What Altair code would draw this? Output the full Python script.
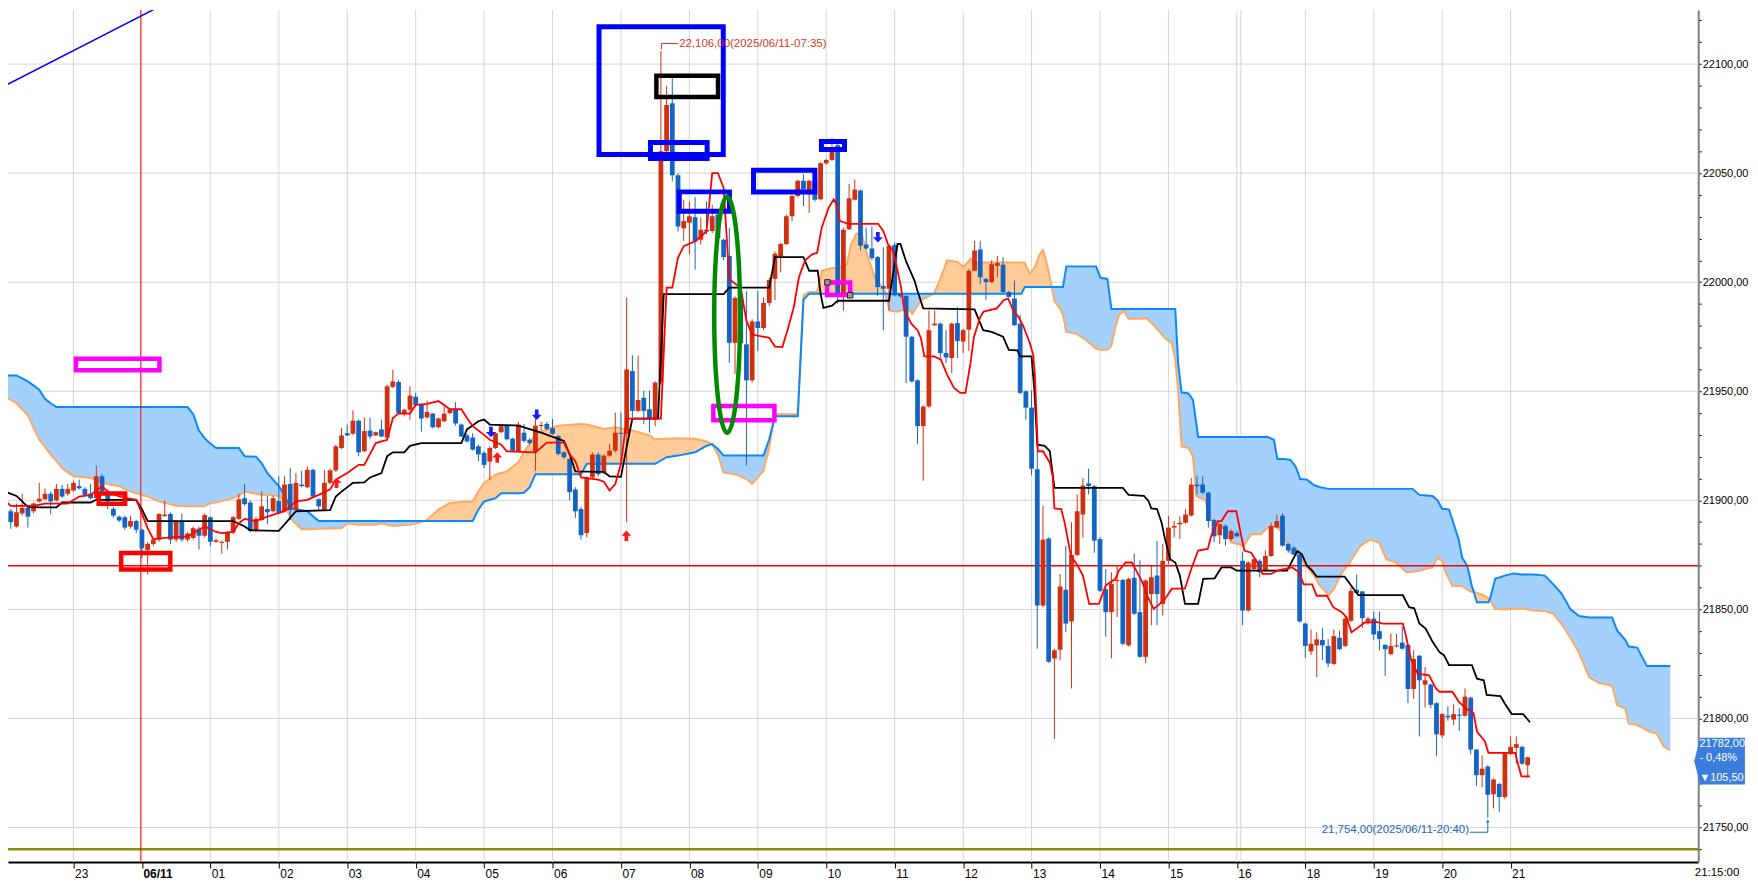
import altair as alt
import pandas as pd

# ---------------- candle data (5-minute bars, index 0 = 22:00) ----------------
opens = [21898, 21895, 21888, 21894, 21896.5, 21895, 21899.5, 21900.5, 21903, 21900,
 21905.25, 21903, 21904.5, 21906.5, 21905.25, 21903, 21901, 21911, 21904, 21896,
 21892.5, 21892.25, 21888, 21890.5, 21886.5, 21877.25, 21880, 21882, 21892.75, 21893.75,
 21882, 21890.5, 21882, 21882.75, 21887, 21883.75, 21892.25, 21881, 21880.5, 21881,
 21885.25, 21891.5, 21901, 21899, 21886, 21891, 21896, 21895, 21899.75, 21895,
 21907.5, 21895.75, 21907.25, 21906, 21914, 21900.5, 21895.75, 21908, 21913.75, 21924,
 21930.75, 21930.5, 21936.5, 21922.5, 21932, 21929.75, 21932.5, 21928.75, 21952, 21954.25,
 21940, 21941.5, 21947.5, 21943.75, 21938, 21939.75, 21933.5, 21936.25, 21940, 21941.5,
 21934.75, 21929.75, 21928.75, 21924.75, 21921.75, 21917.75, 21924, 21931.25, 21934.25, 21928.25,
 21922.5, 21931, 21927.75, 21922, 21934, 21935, 21933, 21929.5, 21922, 21919,
 21905, 21896, 21885, 21910.5, 21921, 21912.75, 21920.5, 21922.75, 21931, 21930.5,
 21959.25, 21941, 21947, 21941.75, 21937.75, 21954, 22060, 22082, 22049, 22024.75,
 22027.25, 22029.75, 22019.5, 22024, 22023.5, 22031, 22019.5, 22012, 21972.25, 21992,
 21971.5, 21955, 21982, 21979, 21990.5, 22001.5, 22012, 22017.5, 22030.25, 22039.5,
 22046.5, 22040.25, 22046.5, 22038, 22054.5, 22056, 22062.75, 21993.75, 22024.25, 22037.75,
 22042, 22017.25, 22015.5, 22011.5, 21998.25, 21997, 22017, 21994.75, 21993.75, 21975,
 21955, 21934, 21943, 21980.25, 21981, 21967.5, 21965.25, 21981.25, 21972.75, 21978.25,
 22005.25, 22015, 22001.5, 22000, 22007.5, 22008, 21995.5, 21992.5, 21981, 21950,
 21942.5, 21914.25, 21851.75, 21882.5, 21827.5, 21831.5, 21859, 21844.5, 21875, 21893.5,
 21907.75, 21906.5, 21882.25, 21859.25, 21848.75, 21863, 21863.5, 21833.5, 21864.5, 21848.75,
 21828.25, 21857, 21865.5, 21852.5, 21872.25, 21887.5, 21889, 21889.75, 21893, 21907.25,
 21907.25, 21903.5, 21891, 21884, 21888.25, 21882.25, 21885, 21872.25, 21849.5, 21868.5,
 21872.25, 21867.75, 21874.5, 21887.5, 21893, 21880, 21878.25, 21875.25, 21843.5, 21830.75,
 21833.5, 21836, 21833.25, 21825, 21837, 21833.25, 21844.75, 21859, 21858.25, 21844.5,
 21845.75, 21840, 21833.75, 21829.5, 21833, 21834.75, 21833.75, 21813.5, 21828.75, 21815.5,
 21815.5, 21807, 21792.25, 21801.25, 21799.5, 21801.5, 21801.25, 21809.5, 21785.75, 21774,
 21778, 21765.25, 21770, 21764, 21783.75, 21786.5, 21787, 21778.5]
highs = [21899, 21896, 21898.5, 21903, 21897, 21899, 21908, 21905.5, 21904, 21907.5,
 21907, 21907.5, 21909, 21909.5, 21906, 21907.5, 21916, 21912, 21905, 21897,
 21893, 21893, 21893, 21891, 21887, 21881, 21882.5, 21894, 21900, 21894.5,
 21891, 21894, 21885.5, 21888, 21888, 21894, 21892.5, 21882.5, 21881.5, 21886,
 21893, 21903, 21907.5, 21900, 21892.5, 21904, 21902, 21902, 21911, 21911,
 21914.75, 21912.5, 21913.5, 21915.5, 21914.5, 21901, 21914, 21914.5, 21925.5, 21933.25,
 21934.75, 21941.25, 21937, 21938, 21938, 21931.5, 21937, 21953, 21960, 21955,
 21942, 21952.25, 21949.25, 21944, 21945.75, 21940, 21938, 21943, 21942.25, 21945,
 21935.25, 21930.5, 21930.75, 21925.5, 21922.5, 21924.75, 21931.25, 21934.5, 21935, 21928.75,
 21936, 21935, 21928.5, 21938.75, 21936, 21936, 21937.25, 21930, 21922.5, 21919.5,
 21906, 21897, 21911, 21922, 21922, 21921, 21925.75, 21940.25, 21940.25, 21993,
 21966.5, 21966.25, 21950.25, 21950.25, 21954.5, 22106, 22090, 22093.5, 22050, 22037.75,
 22037, 22039, 22029.5, 22037, 22035.5, 22032, 22020, 22025, 21993.5, 21994,
 21995.75, 21983, 21996, 21993, 22002, 22014, 22018, 22031, 22040, 22047,
 22049.5, 22047, 22050, 22055, 22056.5, 22066, 22063.5, 22025, 22045, 22047,
 22042.5, 22025, 22025.5, 22012, 22016, 22017, 22018.25, 21995, 21994, 21975.5,
 21955.5, 21943.5, 21987, 21987, 21981.5, 21978, 21981.5, 21988.5, 21978.5, 22006,
 22019, 22019, 22002, 22010, 22012, 22011.5, 21996, 22000.75, 21985, 21950.5,
 21950.5, 21929.25, 21897.5, 21883, 21832, 21866.25, 21879, 21890, 21902.75, 21910.25,
 21914.5, 21907, 21883, 21868.5, 21867, 21870, 21864, 21864.5, 21875.5, 21872.5,
 21863.75, 21870, 21881.5, 21880, 21892.75, 21890.5, 21892.75, 21896, 21910.25, 21911,
 21911, 21904, 21891.5, 21889.5, 21889, 21886.5, 21886, 21876.5, 21872, 21873.5,
 21873, 21877, 21889.75, 21893.5, 21894, 21880.5, 21879, 21876.75, 21844, 21840.75,
 21839.5, 21841.5, 21836.5, 21840.75, 21840.25, 21847.25, 21860, 21866, 21858.5, 21846.5,
 21849, 21849, 21834, 21839, 21838.75, 21842, 21834, 21831.25, 21829.25, 21823.5,
 21816, 21807.5, 21802.5, 21805.5, 21806.5, 21804.75, 21813.75, 21810, 21786, 21783,
 21778.5, 21772.5, 21770.5, 21784.5, 21791.75, 21791.75, 21787.5, 21782.5]
lows = [21893, 21887, 21887.5, 21893, 21887.5, 21894, 21899, 21900, 21893.5, 21899.5,
 21901, 21902, 21904, 21905, 21902, 21900.5, 21900.5, 21903.5, 21896, 21892,
 21890, 21886.5, 21887, 21885, 21873.5, 21866, 21879, 21881, 21892.5, 21880,
 21881, 21881, 21881, 21882, 21877.5, 21883, 21879, 21880.5, 21875.5, 21877.5,
 21884.5, 21891, 21897.5, 21885.5, 21885.5, 21890.5, 21889, 21894.5, 21893.5, 21894.5,
 21891, 21895, 21906, 21905.5, 21901, 21895.5, 21895, 21907.5, 21913, 21923.5,
 21929.5, 21930, 21920.25, 21922, 21928, 21929.5, 21929, 21927.5, 21951.5, 21939.5,
 21938.5, 21937, 21943.5, 21931.5, 21937.5, 21933, 21933, 21935.75, 21939.5, 21934.25,
 21929, 21926.5, 21922.75, 21918, 21914.75, 21909.5, 21923.5, 21930.75, 21927.5, 21922,
 21922, 21926.5, 21925.5, 21913.5, 21932, 21932, 21930, 21920.5, 21919, 21900,
 21892, 21882, 21883, 21910, 21911, 21912, 21920, 21922, 21916.75, 21890,
 21938, 21940.5, 21935, 21931, 21934, 21953, 22059, 22046.25, 22023.25, 22019,
 22012.75, 22005.75, 22017.25, 22022, 22022.5, 22019, 22010, 21963, 21958, 21970,
 21916, 21954, 21968.5, 21978, 21989, 21991.75, 22004.5, 22017, 22028, 22039,
 22035, 22031.75, 22037, 22037.5, 22053.75, 22055.5, 21990.25, 21987, 22024, 22037.5,
 22014.5, 22015, 22010, 21993.75, 21978, 21987, 21993.5, 21993, 21953.75, 21954,
 21925.75, 21909, 21942.5, 21980, 21964.5, 21963, 21958.25, 21965.25, 21967.5, 21968.5,
 22005, 21999, 21991.75, 21999.5, 22002.25, 21995, 21993, 21980, 21948.5, 21937,
 21911.5, 21832, 21851, 21825.5, 21790.5, 21826.75, 21839.5, 21813.75, 21874.5, 21882.75,
 21902.75, 21876, 21858, 21837.5, 21827.5, 21846.5, 21833.5, 21833, 21847.5, 21827.75,
 21825.25, 21842.75, 21842.75, 21847.25, 21870.75, 21883, 21882.25, 21889.25, 21892.5, 21902.75,
 21903, 21887.5, 21880.75, 21880, 21879.25, 21881.5, 21883, 21842.75, 21849, 21868,
 21864.75, 21867.25, 21874, 21887, 21878.75, 21876, 21875, 21844, 21827.75, 21829,
 21819, 21826.75, 21823.5, 21824.5, 21831.25, 21832.75, 21844.25, 21857, 21841.5, 21843,
 21836, 21831.25, 21819.5, 21829, 21832.5, 21831.5, 21807, 21809, 21791.75, 21805,
 21804.75, 21782.75, 21791, 21799, 21797, 21794.25, 21800.75, 21783.5, 21769, 21768.5,
 21754.5, 21758.75, 21757, 21763, 21783.25, 21779.5, 21778.75, 21772.75]
closes = [21895, 21890, 21894.5, 21896.5, 21892.5, 21898.5, 21900.75, 21903, 21899.5, 21905.25,
 21901.75, 21905.25, 21908, 21905.5, 21902.5, 21901, 21911, 21904, 21899.5, 21893,
 21890.75, 21887.5, 21890.5, 21886.5, 21878, 21880, 21882, 21893.75, 21893.5, 21882,
 21890.25, 21882, 21884.75, 21887.25, 21883.75, 21893.25, 21881, 21881.75, 21881, 21885.25,
 21892.25, 21900.5, 21898.25, 21886, 21891.5, 21897.25, 21894.5, 21901, 21894.25, 21907.25,
 21895.5, 21908, 21906.5, 21914, 21901.75, 21897.25, 21908, 21913.75, 21924.75, 21929.75,
 21929.75, 21936.5, 21922, 21931.75, 21929.25, 21931.25, 21929.25, 21952.25, 21954.5, 21940,
 21941.5, 21948, 21943.75, 21937.5, 21940.5, 21933.5, 21937.5, 21939.75, 21941.5, 21935.25,
 21929.25, 21927, 21923.25, 21921, 21916.25, 21924, 21930.75, 21934, 21928, 21922.75,
 21934.75, 21927.25, 21926.25, 21934.25, 21934.5, 21932.75, 21930.5, 21921.25, 21919.75, 21903.75,
 21895, 21884, 21910.5, 21921, 21912, 21920.5, 21922.75, 21931, 21930.5, 21960,
 21941, 21946, 21941, 21937.25, 21954, 22060, 22081.25, 22049, 22025.5, 22028,
 22030.25, 22018.5, 22024, 22023.25, 22030.25, 22020.25, 22011.5, 21972.25, 21992.75, 21972,
 21955, 21982, 21979, 21990.5, 22001, 22013, 22017.5, 22030.25, 22039.5, 22046.5,
 22042.5, 22046.5, 22037.75, 22054.5, 22056, 22061.5, 21993.75, 22024, 22038.5, 22042.5,
 22016.75, 22015.5, 22011, 21997.75, 21997, 22016.75, 21994, 21993.5, 21975, 21954.5,
 21934, 21943, 21978, 21981, 21967.5, 21965.5, 21981, 21973, 21978, 22005.25,
 22014.5, 22002.25, 22000, 22008.25, 22008.75, 21995.5, 21993.25, 21980.25, 21949.25, 21942.5,
 21914.5, 21851.75, 21882, 21826, 21831.25, 21860.5, 21843.5, 21875, 21895, 21906.75,
 21906.5, 21881.5, 21858.5, 21848.75, 21861.75, 21863.5, 21834.25, 21864, 21848, 21828.25,
 21863.25, 21864.75, 21857, 21872.25, 21887.5, 21888.25, 21889.75, 21893.5, 21907.25, 21906.5,
 21903.5, 21890.5, 21883.5, 21889, 21882.25, 21886, 21883.5, 21849.5, 21871.5, 21873,
 21867, 21874.5, 21888.25, 21890.5, 21879.25, 21877, 21875.25, 21844.5, 21833.25, 21834.25,
 21836.25, 21833.5, 21825.25, 21837.75, 21831.75, 21845.75, 21858.5, 21857.5, 21846, 21845.75,
 21838.5, 21836.5, 21831.75, 21833.25, 21833.25, 21832, 21813.5, 21827.25, 21817.5, 21817.5,
 21806.25, 21792.75, 21802, 21800.5, 21802, 21801.25, 21810, 21785.75, 21774, 21777,
 21765, 21772, 21764, 21784, 21787, 21788.25, 21779.25, 21782.25]

# ---------------- Ichimoku lines ----------------
tenkan_idx = [0, 1, 5, 7, 11, 13, 15, 17, 18, 20, 23, 24, 25, 26, 28, 32, 35, 37, 38, 40, 41, 42, 44, 46, 48, 49, 51, 53, 55, 57, 58, 60, 62, 63, 65, 67, 68, 69, 71, 72, 74, 76, 78, 80, 81, 82, 84, 85, 87, 88, 93, 95, 98, 99, 100, 101, 104, 105, 106, 107, 108, 109, 115, 116, 117, 118, 119, 121, 123, 124, 125, 126, 127, 129, 130, 131, 134, 135, 136.3, 137.2, 138.3, 139.2, 140.3, 141.5, 142.4, 143.2, 144.4, 145.3, 145.8, 146.4, 147.9, 153.1, 154, 154.8, 155.7, 156.5, 157.1, 157.7, 158.9, 160, 160.6, 161.2, 162.9, 164.1, 165.2, 166.4, 167.5, 168.4, 169.3, 169.9, 171, 171.6, 173.9, 175.1, 175.9, 176.8, 177.7, 178.5, 179.7, 180.3, 180.6, 181.1, 182, 183.2, 183.7, 184, 185.2, 185.8, 186.9, 188.1, 189, 190.1, 191.8, 193, 194.7, 195.3, 196.5, 197.6, 199.4, 200.5, 201.4, 202.5, 203.4, 204.6, 206.9, 208, 209.2, 210.9, 211.5, 212.7, 213.3, 214.4, 215.9, 216.7, 217.3, 218.5, 219.6, 220.5, 222, 223.1, 224.2, 225.7, 226.9, 227.7, 229.2, 230, 231.8, 232.9, 234.4, 235.2, 236.1, 237.3, 238.4, 240.5, 241.6, 245.1, 245.7, 246.5, 247.7, 249.7, 250.9, 251.5, 253.8, 254.9, 256.1, 257.5, 258.1, 259.5, 260.1, 264.8, 265.3, 265.9, 267.4]
tenkan_val = [21900, 21897.5, 21897.5, 21898.5, 21898.5, 21901.75, 21902.5, 21906.5, 21904, 21901.75, 21900.25, 21894, 21887.25, 21882.25, 21882.75, 21883.5, 21888, 21885.5, 21885, 21885.5, 21889.5, 21891.5, 21890.5, 21892.5, 21894.25, 21895, 21899.5, 21900.25, 21902.5, 21905, 21909.5, 21912.5, 21916.25, 21916.25, 21926.25, 21927.75, 21937.75, 21939.75, 21939.75, 21943.75, 21944.25, 21945.5, 21941.75, 21941.75, 21937.75, 21934, 21930, 21927.75, 21925.5, 21922.5, 21922, 21926.5, 21926.5, 21921, 21918, 21910.5, 21909.5, 21908.5, 21904.5, 21907.5, 21916.75, 21937.5, 21937.5, 21997.5, 21997.5, 22011.25, 22016.5, 22018.75, 22023.25, 22050, 22050, 22043.25, 22001.25, 21997.5, 21982.25, 21976, 21974.5, 21970.5, 21970.25, 21978, 21988.5, 22002.25, 22010, 22012.75, 22013.5, 22025, 22034, 22038, 22035.75, 22028, 22026.75, 22026.75, 22023.5, 22017.5, 22014.5, 22005.25, 21997.75, 21987, 21981, 21978, 21974.25, 21966, 21966, 21964.5, 21957.5, 21951.5, 21949.25, 21949.25, 21963, 21975, 21984, 21986.5, 21988, 21991.75, 21992.5, 21987, 21984, 21980.25, 21972, 21966.5, 21956.5, 21922.5, 21922.5, 21917.25, 21911, 21896.25, 21896, 21889.75, 21874.5, 21870, 21865.5, 21852.5, 21852.5, 21861, 21864, 21867.75, 21871.5, 21871.5, 21862.5, 21855, 21850.25, 21852.5, 21854.75, 21859.5, 21859.5, 21868.5, 21877, 21877.75, 21883.75, 21890.5, 21890.5, 21895, 21895, 21884.5, 21877, 21876, 21871.5, 21866.25, 21866.25, 21867.75, 21868.5, 21869.25, 21867, 21861.5, 21861.5, 21856.25, 21856.25, 21851, 21848.75, 21846.5, 21839.5, 21841.75, 21844, 21844.25, 21843.5, 21843.5, 21837.25, 21827.5, 21820.5, 21819.75, 21813.75, 21812.25, 21812.25, 21807.75, 21804.75, 21802.5, 21794, 21789.5, 21784.25, 21784.25, 21779, 21773.5, 21773.5]

kijun_idx = [0, 2, 4, 6, 9, 10, 15, 16, 23, 24, 25, 40, 42, 43, 48, 49, 51, 57, 58, 59, 61, 63, 64, 66, 67, 68, 70, 71, 73, 80, 81, 83, 84, 85, 90, 94, 98, 99, 100, 105, 106, 108, 109, 110, 114.5, 115.5, 126, 127, 134, 135, 140, 141, 142.5, 143, 143.5, 145, 146, 155, 155.5, 156.5, 157, 158, 159.5, 160, 161, 170, 171.5, 173, 175, 176, 177.5, 178, 180, 180.5, 181, 182.3, 183.2, 184, 196, 197, 199.7, 200.5, 201, 202, 202.8, 203.4, 204.3, 205.2, 206, 206.9, 209.2, 210.1, 212.1, 213.3, 215, 216, 224.8, 226.6, 227.4, 228.3, 229.2, 230, 234.9, 236.1, 237.3, 245.1, 246.2, 247.1, 248, 249.1, 250.3, 251.5, 252.3, 253.2, 257.2, 258.1, 259.3, 259.8, 262.2, 263, 264.2, 266.2, 267.4]
kijun_val = [21904, 21902, 21897, 21896.75, 21896.75, 21899, 21899, 21900.25, 21900.25, 21896, 21890.5, 21890.5, 21888, 21886.25, 21886, 21889, 21895, 21895.5, 21901.75, 21904, 21908, 21908.25, 21910.5, 21912.5, 21920.25, 21922, 21922, 21925, 21926.25, 21926.25, 21932.5, 21936.25, 21937, 21934.75, 21934.25, 21931, 21927.25, 21921.25, 21913.25, 21913, 21911, 21910.75, 21924.5, 21937.5, 21937.5, 21994.5, 21994.5, 21997.5, 21997.5, 22011.5, 22011.5, 22005.25, 22005.25, 21994.75, 21988.25, 21989.25, 21991.5, 21991.5, 22000, 22017.5, 22017.5, 22009.5, 22000.5, 21996, 21988, 21987.5, 21978, 21977.25, 21975, 21969, 21968.75, 21966, 21966, 21950, 21925.5, 21925, 21922.5, 21905.75, 21905.75, 21902.5, 21902, 21899.75, 21896.25, 21896, 21889.75, 21882.25, 21873, 21871.5, 21865.5, 21852.5, 21852.5, 21864, 21864.25, 21869.25, 21869.25, 21867.75, 21867.75, 21876.75, 21875.25, 21870, 21867.75, 21865, 21865, 21860.75, 21856.5, 21856.5, 21851, 21850.5, 21843.5, 21841.25, 21835.25, 21830.5, 21829, 21824.5, 21824.5, 21818.25, 21817.5, 21810.75, 21810.25, 21806.75, 21802, 21802, 21798.25]

cloud_idx = [0, 2, 4, 6, 7, 8, 9, 10, 12, 15, 17, 20, 22, 25, 27, 30, 32, 33, 34, 35, 36, 37, 40, 41, 42, 44, 45, 46, 48, 49, 50, 52, 53, 54, 55, 59, 60, 62, 65, 66, 68, 71, 73, 74, 76, 78, 80, 82, 83, 84, 86, 87, 88, 90, 91, 92, 93, 95, 97, 101, 102, 105, 107, 110, 113, 114, 116, 118, 121, 123, 124, 125, 126, 128, 130, 131, 132, 133, 134, 135, 139, 140, 141, 142.4, 143.2, 144.7, 146.1, 147.6, 148.4, 149.3, 150.2, 151.3, 152.5, 154.2, 155.1, 156.5, 158.3, 159.1, 160.6, 162.9, 164.1, 165.2, 167, 168.1, 169.3, 169.9, 178.2, 178.8, 179.7, 180.6, 181.4, 182, 182.6, 183.5, 184, 185.2, 185.5, 186.1, 187.8, 189.5, 191.3, 192.1, 193.3, 194, 194.7, 195.3, 196.2, 197, 198.8, 200.2, 201.7, 203.4, 204.6, 205.2, 205.7, 206.3, 207.5, 208.3, 208.9, 209.2, 210.4, 210.9, 211.5, 212.7, 213.8, 215, 217.3, 218.5, 220.2, 221.4, 222.5, 223.1, 224.2, 225.4, 226.3, 227.1, 228.3, 229.5, 230.6, 232.1, 233, 234.4, 235.8, 237.6, 239.3, 241, 242.2, 243.9, 245.7, 246.8, 248, 249.1, 250.3, 251.2, 252, 252.6, 253.2, 253.8, 254.9, 255.5, 256.4, 257.2, 258.1, 259.5, 260.1, 260.4, 261.3, 263, 264.5, 266, 268, 270, 271.5, 273, 274.5, 276, 277.8, 279.5, 281.8, 282.7, 284.1, 284.7, 286.2, 287.9, 288.5, 289.6, 290.8, 292]
span_orange = [21947.5, 21944.5, 21939, 21927.75, 21924.5, 21921, 21918, 21914.75, 21911, 21910.25, 21908, 21906.5, 21904, 21901.75, 21899.5, 21897.5, 21897.25, 21897.25, 21897.25, 21897.25, 21898.75, 21899, 21901, 21902, 21904, 21903, 21902.5, 21902.5, 21902, 21899.5, 21891.75, 21886.75, 21886.75, 21886.75, 21887, 21887.25, 21889.5, 21888.75, 21888.75, 21889.5, 21888.25, 21888.75, 21890, 21891, 21895.75, 21898.75, 21899.25, 21899.5, 21904, 21908, 21911.75, 21912.5, 21913.25, 21917.5, 21922, 21926, 21930.5, 21932.5, 21934.25, 21935, 21934.75, 21932.75, 21933.5, 21932, 21929.75, 21928, 21928.25, 21928.5, 21928.25, 21927, 21925.75, 21921, 21912.75, 21912, 21909.75, 21907.5, 21910.5, 21913.5, 21924.25, 21939.5, 21939.5, 21994, 21995.5, 21995.5, 22005.25, 22006.25, 22006.75, 22008.25, 22017.5, 22022.25, 22022, 22011.5, 22002.25, 21996.25, 21987, 21986.5, 21988, 21985.5, 21991.75, 21994.75, 22002.25, 22010, 22009.25, 22007, 22010.75, 22009, 22009, 22009, 22003.75, 22007, 22012.75, 22014.75, 22009.5, 21998.5, 21991.5, 21987, 21985, 21977.25, 21976.5, 21973.5, 21969.5, 21969, 21969, 21971, 21979.5, 21985, 21987, 21983.25, 21983.25, 21983.5, 21979.5, 21974.25, 21972, 21964.25, 21950.5, 21924.75, 21924, 21920.25, 21902, 21901.5, 21900.5, 21895.75, 21891.25, 21889.75, 21886.75, 21880.75, 21879.25, 21884.5, 21884.5, 21887.5, 21888, 21888.25, 21883.75, 21876, 21875, 21873.75, 21869.25, 21865.5, 21860.75, 21856.5, 21859.25, 21866.75, 21871.5, 21879, 21882, 21880.5, 21873, 21871.5, 21867, 21867.25, 21867.75, 21868.5, 21869.25, 21873.75, 21872.25, 21867, 21864, 21860.75, 21860.75, 21860.75, 21859, 21858, 21857.5, 21856.25, 21855, 21854, 21850.25, 21850, 21850.25, 21850.5, 21849.5, 21849.25, 21848, 21843, 21837, 21830, 21818.75, 21816.25, 21815, 21806, 21804.5, 21797.5, 21797, 21794.5, 21793.75, 21793.25, 21787.25, 21785.5]
span_blue = [21957.25, 21957.25, 21954.5, 21950.75, 21946.5, 21944.5, 21942.75, 21942.75, 21942.75, 21942.75, 21942.75, 21942.75, 21942.75, 21942.75, 21942.75, 21942.75, 21942.75, 21939.5, 21932, 21928.5, 21926, 21924, 21924, 21924, 21920.25, 21920, 21917, 21912.5, 21906.5, 21902.5, 21896.5, 21895.5, 21895, 21892.75, 21890.5, 21890.5, 21890.5, 21890.5, 21890.5, 21890.5, 21890.5, 21890.5, 21890.5, 21890.5, 21890.5, 21890.5, 21890.5, 21890.5, 21895.75, 21899.5, 21901, 21903.25, 21903.25, 21903.25, 21903.5, 21906, 21912, 21912, 21912, 21912, 21916.75, 21916.75, 21916.75, 21916.75, 21916.75, 21916.75, 21919.75, 21920.5, 21922, 21925, 21925.75, 21923.5, 21920.5, 21920.5, 21920.5, 21920.5, 21920.5, 21920.5, 21928, 21938.5, 21938.5, 21992, 21994.75, 21994.75, 21994.75, 21994.75, 21994.75, 21994.75, 21994.75, 21994.75, 21994.75, 21994.75, 21994.75, 21994.75, 21994.75, 21994.75, 21994.75, 21994.75, 21994.75, 21994.75, 21994.75, 21994.75, 21994.75, 21994.75, 21994.75, 21994.75, 21994.75, 21997.75, 21997.75, 21997.75, 21997.75, 21997.75, 21997.75, 21997.75, 21997.75, 21997.75, 21997.75, 22007.25, 22007.25, 22007.25, 22007.25, 22002, 22001.5, 21987.75, 21987.75, 21987.75, 21987.75, 21987.75, 21987.75, 21987.75, 21987.75, 21987.75, 21987.75, 21987.75, 21962.75, 21949.5, 21949, 21946, 21935, 21929, 21929, 21929, 21929, 21929, 21929, 21929, 21929, 21929, 21929, 21929, 21927.75, 21919, 21919, 21918.5, 21915.5, 21909.75, 21909.5, 21907, 21906, 21905.25, 21905.25, 21905.25, 21905.25, 21905.25, 21905.25, 21905.25, 21905.25, 21905.25, 21905.25, 21905.25, 21902.5, 21902.25, 21902, 21900, 21896, 21896, 21895.75, 21891, 21882, 21873.75, 21870, 21860.75, 21853.25, 21853.25, 21853.25, 21855, 21864, 21865.5, 21866.5, 21866, 21866, 21865.5, 21861.5, 21857, 21850, 21847, 21846.25, 21846.25, 21846.25, 21840.25, 21836, 21833, 21832.5, 21824, 21824, 21824, 21824, 21824]

# ---------------- axis labels / levels ----------------
hour_ticks = [12, 24, 36, 48, 60, 72, 84, 96, 108, 120, 132, 144, 156, 168, 180, 192, 204, 216, 228, 240, 252, 264]
hour_labels = ['23', '06/11', '01', '02', '03', '04', '05', '06', '07', '08', '09', '10', '11', '12', '13', '14', '15', '16', '18', '19', '20', '21']
session_break = [216.7]
price_levels = [21750, 21800, 21850, 21900, 21950, 22000, 22050, 22100]
minor_ticks = list(range(21740, 22121, 10))
support_level = 21870
floor_level = 21740
date_marker = 23.8
last_price_text = ['21782,00', '- 0,48%', '\u25bc105,50']
high_text = '22,106,00(2025/06/11-07:35)'
low_text = '21,754,00(2025/06/11-20:40)'
clock_text = '21:15:00'

# annotation boxes (index / price coordinates)
box_x1 = [12.43, 16.43, 20.36, 104.15, 114.21, 113.17, 118.22, 131.24, 143.15, 144.14, 124.2]
box_x2 = [27.07, 21.05, 28.98, 125.94, 125.02, 123.11, 127.02, 142.0, 147.2, 148.19, 134.91]
box_y1 = [21964.9, 21903.1, 21875.9, 22117.1, 22094.6, 22064.0, 22041.4, 22051.3, 22064.5, 21999.9, 21943.25]
box_y2 = [21959.6, 21898.4, 21868.3, 22058.5, 22084.85, 22056.7, 22032.5, 22041.3, 22060.8, 21994.1, 21936.7]
box_kind = ['magenta', 'red', 'red', 'blue', 'black', 'blue', 'blue', 'blue', 'blue', 'magenta', 'magenta']

down_arrow_idx = [85.2, 93.23, 153.05]
down_arrow_val = [21931.3, 21939.2, 22020.6]
up_arrow_idx = [58.13, 86.3, 108.95]
up_arrow_val = [21908.0, 21919.65, 21883.8]

# ---------------- styling ----------------
RED_C = '#d0300f'
BLUE_C = '#1464c4'
FONT = 'Liberation Sans, Arial, sans-serif'
BOX_COLORS = {'magenta': '#ff00ff', 'red': '#ff0000', 'blue': '#0000ff', 'black': '#000000'}
BOX_WIDTH = {'magenta': 4.5, 'red': 4.5, 'blue': 5, 'black': 4.5}

X0, X1 = 8 / 5.763, 1706 / 5.763
Y0 = 22100 - (864 - 62.3) / 2.1914
Y1 = 22100 + (62.3 - 8) / 2.1914
xs = alt.Scale(domain=[X0, X1], nice=False, zero=False)
ys = alt.Scale(domain=[Y0, Y1], nice=False, zero=False)

label_js = "[" + ",".join("'%s'" % l for l in hour_labels) + "][round(datum.value/12)-1]"
xaxis = alt.Axis(values=hour_ticks, labelExpr=label_js, orient='bottom', grid=False,
                 tickSize=6, tickColor='black', domainColor='black', domainWidth=2,
                 labelAlign='left', labelBaseline='top', labelPadding=0, labelOffset=1,
                 labelFont=FONT, labelFontSize=12, labelColor='black', labelFlush=False,
                 labelOverlap=False, title=None,
                 labelFontWeight={"condition": {"test": "datum.value == 24", "value": "bold"}, "value": "normal"})
yaxis = alt.Axis(values=minor_ticks,
                 labelExpr="datum.value % 50 == 0 ? replace(format(datum.value, '.2f'), '.', ',') : ''",
                 orient='right', grid=False, tickSize=3, tickColor='black', domainColor='#808080',
                 domainWidth=2, labelPadding=1, labelFont=FONT, labelFontSize=11, labelColor='black',
                 labelOverlap=False, labelFlush=False, title=None, labelAlign='left', labelBaseline='middle')


def X(f):
    return alt.X(f, type='quantitative', scale=xs, axis=xaxis)


def Y(f):
    return alt.Y(f, type='quantitative', scale=ys, axis=yaxis)


candles = pd.DataFrame({'idx': list(range(len(opens))), 'open': opens, 'high': highs, 'low': lows, 'close': closes})
tenkan = pd.DataFrame({'idx': tenkan_idx, 'v': tenkan_val})
kijun = pd.DataFrame({'idx': kijun_idx, 'v': kijun_val})
cloud = pd.DataFrame({'idx': cloud_idx, 'a': span_orange, 'b': span_blue})
vgrid = pd.DataFrame({'idx': hour_ticks + session_break})
hgrid = pd.DataFrame({'v': price_levels})
boxes = pd.DataFrame({'x1': box_x1, 'x2': box_x2, 'y1': box_y1, 'y2': box_y2,
                      'col': [BOX_COLORS[k] for k in box_kind], 'sw': [BOX_WIDTH[k] for k in box_kind]})

layers = []
layers.append(alt.Chart(vgrid).mark_rule(color='#d6d6d6', strokeWidth=1).encode(x=X('idx')))
layers.append(alt.Chart(hgrid).mark_rule(color='#d6d6d6', strokeWidth=1).encode(y=Y('v')))

# cloud fills
cl = alt.Chart(cloud).transform_calculate(top='max(datum.a, datum.b)')
layers.append(cl.mark_area(color='#a3d0fd', opacity=1, clip=True).encode(x=X('idx'), y=Y('a'), y2='top:Q'))
layers.append(cl.mark_area(color='#ffcc99', opacity=1, clip=True).encode(x=X('idx'), y=Y('b'), y2='top:Q'))
layers.append(alt.Chart(cloud).mark_line(color='#ffa860', strokeWidth=2, clip=True).encode(x=X('idx'), y=Y('a')))
layers.append(alt.Chart(cloud).mark_line(color='#0a88ff', strokeWidth=2, clip=True).encode(x=X('idx'), y=Y('b')))

# reference lines
layers.append(alt.Chart(pd.DataFrame({'v': [support_level]})).mark_rule(color='#ff0000', strokeWidth=1.5).encode(y=Y('v')))
layers.append(alt.Chart(pd.DataFrame({'v': [floor_level]})).mark_rule(color='#8c8c00', strokeWidth=2.5).encode(y=Y('v')))
layers.append(alt.Chart(pd.DataFrame({'idx': [date_marker]})).mark_rule(color='#ff0000', strokeWidth=1).encode(x=X('idx')))
trend = pd.DataFrame({'idx': [0, 28.6], 'v': [22090.1, 22128.4]})
layers.append(alt.Chart(trend).mark_line(color='#0000ff', strokeWidth=1.5, clip=True).encode(x=X('idx'), y=Y('v')))

# candles
color_cond = alt.condition('datum.close >= datum.open', alt.value(RED_C), alt.value(BLUE_C))
layers.append(alt.Chart(candles).mark_rule(strokeWidth=1, clip=True).encode(
    x=X('idx'), y=Y('low'), y2='high:Q', color=color_cond))
body = alt.Chart(candles).transform_calculate(
    bot='min(datum.open, datum.close)',
    top='max(datum.open, datum.close)'
).transform_calculate(top2='datum.top - datum.bot < 0.5 ? datum.bot + 0.5 : datum.top')
layers.append(body.mark_bar(size=4.8, clip=True).encode(x=X('idx'), y=Y('bot'), y2='top2:Q', color=color_cond))

# tenkan / kijun
layers.append(alt.Chart(kijun).mark_line(color='#000000', strokeWidth=1.8, clip=True).encode(x=X('idx'), y=Y('v')))
layers.append(alt.Chart(tenkan).mark_line(color='#ff0000', strokeWidth=1.8, clip=True).encode(x=X('idx'), y=Y('v')))

# signal arrows
down_path = 'M-0.35,-1 L0.35,-1 L0.35,0 L0.95,0 L0,1 L-0.95,0 L-0.35,0 Z'
up_path = 'M-0.35,1 L0.35,1 L0.35,0 L0.95,0 L0,-1 L-0.95,0 L-0.35,0 Z'
layers.append(alt.Chart(pd.DataFrame({'idx': down_arrow_idx, 'v': down_arrow_val})).mark_point(
    shape=down_path, size=110, filled=True, color='#1a1aff', opacity=1).encode(x=X('idx'), y=Y('v')))
layers.append(alt.Chart(pd.DataFrame({'idx': up_arrow_idx, 'v': up_arrow_val})).mark_point(
    shape=up_path, size=110, filled=True, color='#ff1a1a', opacity=1).encode(x=X('idx'), y=Y('v')))

# annotation boxes
layers.append(alt.Chart(boxes).mark_rect(fillOpacity=0, clip=True).encode(
    x=X('x1'), x2='x2:Q', y=Y('y1'), y2='y2:Q',
    stroke=alt.Stroke('col:N', scale=None), strokeWidth=alt.StrokeWidth('sw:Q', scale=None)))
corner = pd.DataFrame({'idx': [144.2, 148.2], 'v': [21999.9, 21994.0]})
layers.append(alt.Chart(corner).mark_square(size=30, color='#999999', stroke='#222222', strokeWidth=1, opacity=1, filled=True).encode(
    x=X('idx'), y=Y('v')))

# green ellipse
a = 13.0 / 118.5
k = 0.5523
ell = ('M0,-1 C{ka},-1 {a},-{k} {a},0 C{a},{k} {ka},1 0,1 C-{ka},1 -{a},{k} -{a},0 '
       'C-{a},-{k} -{ka},-1 0,-1 Z').format(a=round(a, 4), ka=round(a * k, 4), k=k)
layers.append(alt.Chart(pd.DataFrame({'idx': [126.62], 'v': [21985.05]})).mark_point(
    shape=ell, size=237 * 237, filled=False, stroke='#008a00', strokeWidth=4.5, opacity=1).encode(x=X('idx'), y=Y('v')))

# high / low annotations
hi_lead = pd.DataFrame({'x1': [115.1, 115.1], 'x2': [118.0, 115.1], 'y1': [22109.4, 22109.4], 'y2': [22109.4, 22106.8]})
layers.append(alt.Chart(hi_lead).mark_rule(color='#d03a1a', strokeWidth=1).encode(x=X('x1'), x2='x2:Q', y=Y('y1'), y2='y2:Q'))
layers.append(alt.Chart(pd.DataFrame({'idx': [118.2], 'v': [22109.4], 't': [high_text]})).mark_text(
    align='left', baseline='middle', font=FONT, fontSize=11.5, color='#d03a1a').encode(x=X('idx'), y=Y('v'), text='t:N'))
lo_lead = pd.DataFrame({'x1': [256.8, 260.0], 'x2': [260.0, 260.0], 'y1': [21747.85, 21747.85], 'y2': [21747.85, 21753.0]})
layers.append(alt.Chart(lo_lead).mark_rule(color='#1a64c8', strokeWidth=1).encode(x=X('x1'), x2='x2:Q', y=Y('y1'), y2='y2:Q'))
layers.append(alt.Chart(pd.DataFrame({'idx': [260.0], 'v': [21753.0]})).mark_point(
    shape='triangle-up', size=12, filled=True, color='#1a64c8', opacity=1).encode(x=X('idx'), y=Y('v')))
layers.append(alt.Chart(pd.DataFrame({'idx': [256.7], 'v': [21748.9], 't': [low_text]})).mark_text(
    align='right', baseline='middle', font=FONT, fontSize=11.5, color='#1a64c8').encode(x=X('idx'), y=Y('v'), text='t:N'))

# last price tag
tag_path = 'M-1,0 L-0.76,-0.92 L1,-0.92 L1,0.92 L-0.76,0.92 Z'
layers.append(alt.Chart(pd.DataFrame({'idx': [300.64], 'v': [21780.4]})).mark_point(
    shape=tag_path, size=2601, filled=True, color='#3b7ddd', opacity=1, clip=False).encode(x=X('idx'), y=Y('v')))
tag_txt = pd.DataFrame({'idx': [297.1, 297.1, 297.1], 'v': [21788.4, 21781.8, 21772.9], 't': last_price_text})
layers.append(alt.Chart(tag_txt).mark_text(align='left', baseline='middle', font=FONT, fontSize=11,
                                           color='white', clip=False).encode(x=X('idx'), y=Y('v'), text='t:N'))
layers.append(alt.Chart(pd.DataFrame({'idx': [296.3], 'v': [21729.2], 't': [clock_text]})).mark_text(
    align='left', baseline='middle', font=FONT, fontSize=11.5, color='black', clip=False).encode(x=X('idx'), y=Y('v'), text='t:N'))

chart = alt.layer(*layers).properties(
    width=1698, height=856,
    autosize=alt.AutoSizeParams(type='none'),
    padding={'left': 0, 'top': 0, 'right': 52, 'bottom': 19},
    background='white'
).configure_view(stroke=None)

chart.save('out.html', embed_options={'renderer': 'svg', 'actions': False})
